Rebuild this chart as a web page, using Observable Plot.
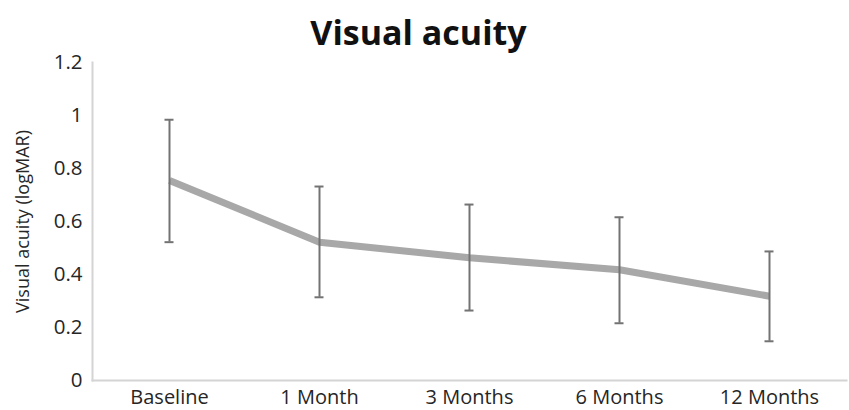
<!DOCTYPE html>
<html>
<head>
<meta charset="utf-8">
<script src="https://cdn.jsdelivr.net/npm/d3@7"></script>
<script src="https://cdn.jsdelivr.net/npm/@observablehq/plot@0.6"></script>
<style>
  body { margin: 0; background: #fff; }
  #title { height: 40px; width: 849px; text-align: center; font-family: "Open Sans", sans-serif; font-weight: bold; font-size: 34px; line-height: 64px; color: #111; padding-right: 12px; box-sizing: border-box; overflow: visible; }
</style>
</head>
<body>
<div id="title">Visual acuity</div>
<div id="chart"></div>
<script>
const categories = ["Baseline", "1 Month", "3 Months", "6 Months", "12 Months"];
const means = [0.755, 0.522, 0.463, 0.418, 0.318];
const upper = [0.984, 0.732, 0.664, 0.616, 0.487];
const lower = [0.522, 0.314, 0.264, 0.216, 0.148];
const yTicks = [0, 0.2, 0.4, 0.6, 0.8, 1, 1.2];
const yLabel = "Visual acuity (logMAR)";

const data = categories.map((c, i) => ({cat: c, mean: means[i], hi: upper[i], lo: lower[i]}));

const chart = Plot.plot({
  width: 849,
  height: 370,
  marginLeft: 92,
  marginRight: 3,
  marginTop: 22,
  marginBottom: 30,
  style: {fontFamily: "'Open Sans', sans-serif", fontSize: "19px", color: "#262626", overflow: "visible"},
  x: {type: "band", domain: categories, padding: 0},
  y: {domain: [0, 1.2]},
  marks: [
    Plot.frame({anchor: "left", stroke: "#d4d4d4", strokeWidth: 2}),
    Plot.frame({anchor: "bottom", stroke: "#d4d4d4", strokeWidth: 2}),
    Plot.axisY({ticks: yTicks, tickSize: 0, tickPadding: 10, tickFormat: d => String(+d.toFixed(1)), label: null, fontSize: 20.5}),
    Plot.axisX({tickSize: 0, tickPadding: 9, label: null, fontSize: 20}),
    Plot.text([yLabel], {frameAnchor: "left", textAnchor: "middle", rotate: -90, dx: -69, fontSize: 18, fill: "#262626"}),
    Plot.line(data, {x: "cat", y: "mean", stroke: "#a8a8a8", strokeWidth: 7, strokeLinejoin: "round", strokeLinecap: "butt"}),
    Plot.ruleX(data, {x: "cat", y1: "lo", y2: "hi", stroke: "#737373", strokeWidth: 2}),
    Plot.tickY(data, {x: "cat", y: "hi", stroke: "#737373", strokeWidth: 2, insetLeft: 70.5, insetRight: 70.5}),
    Plot.tickY(data, {x: "cat", y: "lo", stroke: "#737373", strokeWidth: 2, insetLeft: 70.5, insetRight: 70.5})
  ]
});
document.getElementById("chart").appendChild(chart);
</script>
</body>
</html>
